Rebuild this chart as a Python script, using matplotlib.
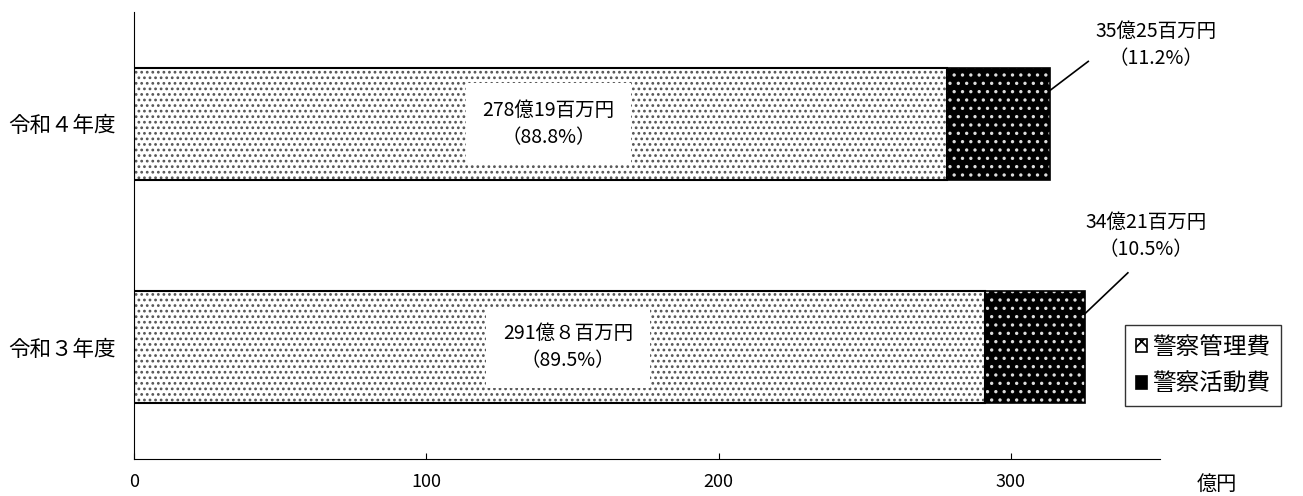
import matplotlib
matplotlib.use('Agg')
import matplotlib.pyplot as plt
from matplotlib.patches import Patch

plt.rcParams['font.family'] = ['Noto Sans CJK JP', 'DejaVu Sans']
plt.rcParams['hatch.linewidth'] = 1.2

# data
years = ['令和３年度', '令和４年度']
kanri = [291.08, 278.19]       # 警察管理費 (億円)
katsudo = [34.21, 35.25]       # 警察活動費 (億円)
kanri_labels = ['291億８百万円\n（89.5%）', '278億19百万円\n（88.8%）']
katsudo_labels = ['34億21百万円\n（10.5%）', '35億25百万円\n（11.2%）']
series_names = ['警察管理費', '警察活動費']
xticks = [0, 100, 200, 300]

fig = plt.figure(figsize=(13.03, 4.96), dpi=100)
ax = fig.add_axes([0.1028, 0.0746, 0.7875, 0.9012])

ypos = list(range(len(years)))
h = 0.5

# light dotted segment
ax.barh(ypos, kanri, height=h, color='white', edgecolor='#555555', hatch='...', linewidth=0)
ax.barh(ypos, kanri, height=h, fill=False, edgecolor='black', linewidth=1.5)
# dark segment with white dots
ax.barh(ypos, katsudo, left=kanri, height=h, color='black', edgecolor='#dddddd', hatch='..', linewidth=0)
ax.barh(ypos, katsudo, left=kanri, height=h, fill=False, edgecolor='black', linewidth=1.2)

# labels inside the light segment
for y, v, lab in zip(ypos, kanri, kanri_labels):
    ax.text(v * 0.51, y, lab, ha='center', va='center', fontsize=14, linespacing=1.4,
            bbox=dict(boxstyle='square,pad=0.85', facecolor='white', edgecolor='none'))

# callout labels for the dark segment
line_dx = [14.7, 13.0]
line_dy = [0.183, 0.129]
text_dx = [20.9, 36.3]
text_y = [0.496, 1.353]
for y, a, b, lab, ldx, ldy, tdx, ty in zip(ypos, kanri, katsudo, katsudo_labels,
                                          line_dx, line_dy, text_dx, text_y):
    x0 = a + b
    y0 = y + h / 2 - 0.1
    ax.plot([x0, x0 + ldx], [y0, y0 + ldy], color='black', lw=1.2, clip_on=False)
    ax.text(x0 + tdx, ty, lab, ha='center', va='center', fontsize=14, linespacing=1.4)

ax.set_xlim(0, 351)
ax.set_ylim(-0.5, 1.5)
ax.set_xticks(xticks)
ax.set_xticklabels([str(t) for t in xticks], fontsize=13)
ax.set_yticks(ypos)
ax.set_yticklabels(years, fontsize=15.5)
ax.tick_params(axis='x', direction='in', length=4, pad=10)
ax.tick_params(axis='y', length=0, pad=13)
ax.spines['top'].set_visible(False)
ax.spines['right'].set_visible(False)
ax.spines['left'].set_linewidth(0.8)
ax.spines['bottom'].set_linewidth(0.8)

fig.text(1217 / 1303, 0.024, '億円', fontsize=14.5, ha='center', va='center')

handles = [Patch(facecolor='white', edgecolor='black', hatch='xx', linewidth=1.2),
           Patch(facecolor='black', edgecolor='black', linewidth=1.2)]
leg = fig.legend(handles, series_names, loc='upper left', bbox_to_anchor=(1125 / 1303, 1 - 325 / 496),
                 fontsize=17, frameon=True, fancybox=False, edgecolor='black',
                 handlelength=0.5, handleheight=0.5, handletextpad=0.2, labelspacing=0.6,
                 borderpad=0.45, borderaxespad=0)
leg.get_frame().set_linewidth(1.0)

fig.savefig('out.png', dpi=100)
